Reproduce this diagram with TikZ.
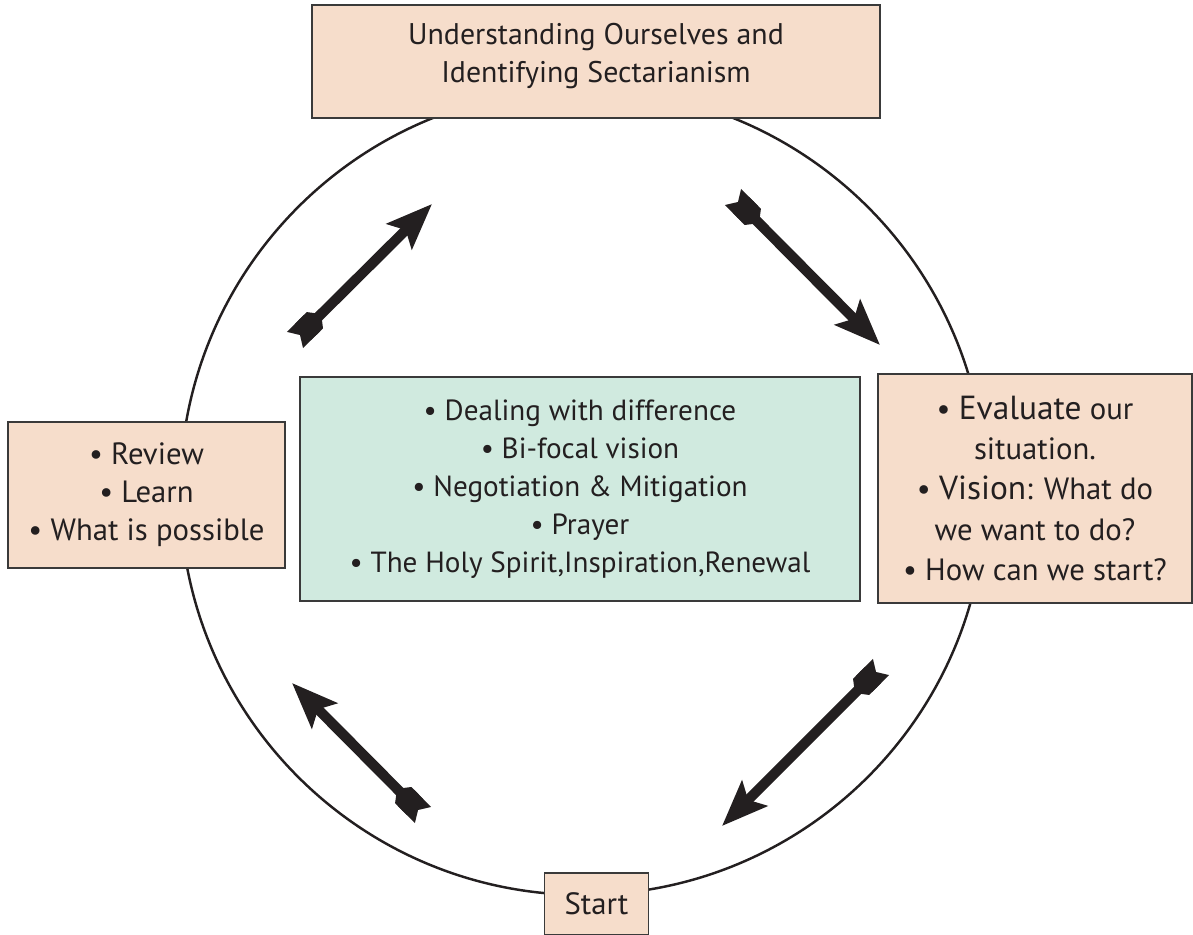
\documentclass[tikz,border=0pt]{standalone}
\usepackage{fontspec}
\setmainfont{PT Sans}
\usepackage{tikz}
\usetikzlibrary{arrows.meta, positioning, calc}
\definecolor{peach}{HTML}{F6DDCB}
\definecolor{mint}{HTML}{D0EADF}
\definecolor{boxline}{HTML}{3A3A3A}
\definecolor{darkgray}{HTML}{231F20}
\tikzset{
  stage/.style={
    rectangle, inner sep=0pt,
    text centered, align=center, draw=boxline, line width=0.9pt,
    fill=peach, text=darkgray, font=\fontsize{17.5}{21.6}\selectfont,
  },
  core/.style={
    rectangle, inner sep=0pt,
    text centered, align=center, draw=boxline, line width=0.9pt,
    fill=mint, text=darkgray, font=\fontsize{16.6}{21.6}\selectfont,
  },
  ring/.style={circle, draw=darkgray, line width=1.4pt, inner sep=0pt},
  flow/.style={
    line width=5.8pt, color=darkgray,
    -{Stealth[length=26pt, width=20pt, inset=5pt]},
  },
  fletch/.style={
    line width=13pt, color=darkgray,
    {Triangle Cap[reversed, length=4pt]}-{Triangle Cap[length=5pt]},
  },
}

\begin{document}
\begin{tikzpicture}[x=0.02cm, y=-0.02cm]
  \useasboundingbox (0,0) rectangle (1193,935);
  \node[ring, minimum size=16.12cm] (cycle) at (583,492) {};
  \node[stage, minimum width=11.36cm, minimum height=2.26cm,
    font=\fontsize{17}{21.6}\selectfont] (understand) at (596,61.5)
    {Understanding Ourselves and\\Identifying Sectarianism\\[-12pt]~};
  \node[stage, minimum width=5.54cm, minimum height=2.92cm] (review) at (146.5,495)
    {• Review\\• Learn\\• What is possible};
  \node[stage, minimum width=6.28cm, minimum height=4.58cm,
    font=\fontsize{17.5}{22.8}\selectfont] (evaluate) at (1035,488.5)
    {• {\fontsize{19}{22.8}\selectfont Evaluate} our\\situation.\\
     • {\fontsize{19}{22.8}\selectfont Vision}: What do\\we want to do?\\• How can we start?};
  \node[core, minimum width=11.2cm, minimum height=4.48cm] (middle) at (580,489)
    {• Dealing with difference\\• Bi-focal vision\\• Negotiation \& Mitigation\\
     • Prayer\\• The Holy Spirit,Inspiration,Renewal};
  \node[stage, minimum width=2.08cm, minimum height=1.24cm] (start) at (596.5,904) {Start};
  % free arrows round the cycle
  \coordinate (ne-tail) at (733,197);
  \coordinate (ne-head) at (880,345);
  \coordinate (se-tail) at (881,667);
  \coordinate (se-head) at (722,826);
  \coordinate (sw-tail) at (423,815);
  \coordinate (sw-head) at (292,683);
  \coordinate (nw-tail) at (295,340);
  \coordinate (nw-head) at (432,204);
  \foreach \a in {ne,se,sw,nw} {
    \draw[flow] ($(\a-tail)!10pt!(\a-head)$)--(\a-head);
    \draw[fletch] (\a-tail)--($(\a-tail)!21pt!(\a-head)$);
  }
\end{tikzpicture}
\end{document}
